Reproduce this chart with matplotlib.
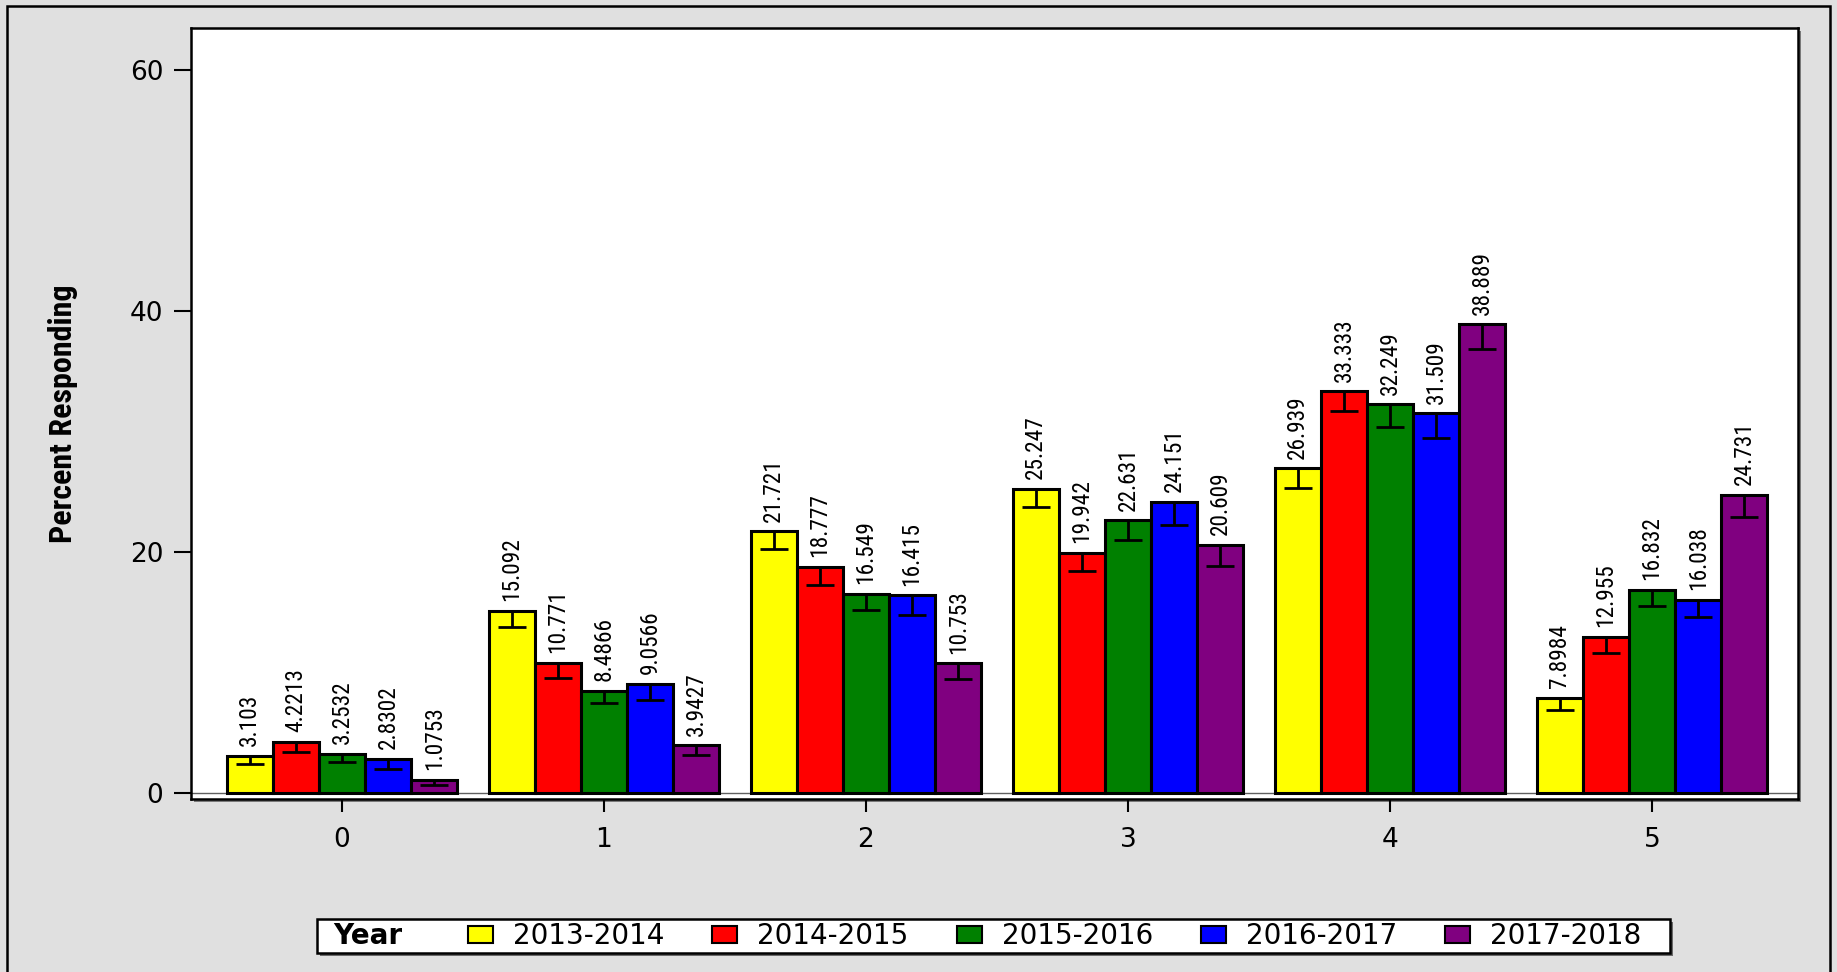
import matplotlib
matplotlib.use('Agg')
import matplotlib.pyplot as plt
from matplotlib.patches import Rectangle
from matplotlib import font_manager as fm
import numpy as np

# ---------------- data ----------------
categories = ['0', '1', '2', '3', '4', '5']
years = ['2013-2014', '2014-2015', '2015-2016', '2016-2017', '2017-2018']
colors = ['#FFFF00', '#FF0000', '#008000', '#0000FF', '#800080']

pct_2013_2014 = [3.103, 15.092, 21.721, 25.247, 26.939, 7.8984]
pct_2014_2015 = [4.2213, 10.771, 18.777, 19.942, 33.333, 12.955]
pct_2015_2016 = [3.2532, 8.4866, 16.549, 22.631, 32.249, 16.832]
pct_2016_2017 = [2.8302, 9.0566, 16.415, 24.151, 31.509, 16.038]
pct_2017_2018 = [1.0753, 3.9427, 10.753, 20.609, 38.889, 24.731]

err_2013_2014 = [0.66, 1.33, 1.47, 1.52, 1.66, 0.97]
err_2014_2015 = [0.83, 1.19, 1.52, 1.52, 1.66, 1.36]
err_2015_2016 = [0.66, 1.02, 1.35, 1.66, 1.90, 1.33]
err_2016_2017 = [0.80, 1.33, 1.66, 1.88, 2.07, 1.40]
err_2017_2018 = [0.40, 0.80, 1.33, 1.80, 2.00, 1.80]

yticks = [0, 20, 40, 60]
y_label = 'Percent Responding'
legend_title = 'Year'

series = [pct_2013_2014, pct_2014_2015, pct_2015_2016, pct_2016_2017, pct_2017_2018]
errors = [err_2013_2014, err_2014_2015, err_2015_2016, err_2016_2017, err_2017_2018]

# ---------------- fonts ----------------
plt.rcParams['font.family'] = ['DejaVu Sans']
weights = {}
for f in fm.fontManager.ttflist:
    if f.style == 'normal':
        weights.setdefault(f.name, set()).add(f.weight)

cands = ['Liberation Sans Narrow', 'Arial Narrow', 'Roboto Condensed',
         'Archivo Narrow', 'PT Sans Narrow', 'Encode Sans Condensed']


def pick(need_bold):
    for c in cands:
        w = weights.get(c, set())
        if not w:
            continue
        if need_bold and not any(int(x) >= 700 for x in w if str(x).isdigit() or isinstance(x, int)):
            if 'bold' not in w:
                continue
        return [c, 'DejaVu Sans'], 'normal'
    return ['DejaVu Sans'], 'condensed'


narrow, stretch = pick(False)
narrow_b, stretch_b = pick(True)

# ---------------- figure ----------------
W, H = 1837, 972
fig = plt.figure(figsize=(W / 100, H / 100), dpi=100)
fig.patch.set_facecolor('#E0E0E0')
renderer = fig.canvas.get_renderer()


def fx(px):
    return px / W


def fy(py):
    return 1 - py / H


def fit_size(s, target_px, fam, st, weight='normal'):
    t = fig.text(0, 0, s, fontsize=10, family=fam, fontweight=weight, fontstretch=st)
    w = t.get_window_extent(renderer=renderer).width
    t.remove()
    return 10 * target_px / w


val_size = fit_size('21.721', 63, narrow, stretch)
ylab_size = fit_size(y_label, 258, narrow_b, stretch_b, 'bold')

# outer border
fig.patches.append(Rectangle((fx(7), fy(990)), fx(1830) - fx(7), fy(6) - fy(990),
                             transform=fig.transFigure, fill=False,
                             edgecolor='black', linewidth=1.8, zorder=-2))

ax_l, ax_r, ax_t, ax_b = 191, 1798, 28, 799
# shadow of plot frame
fig.patches.append(Rectangle((fx(ax_l + 3), fy(ax_b + 3)), fx(ax_r) - fx(ax_l), fy(ax_t) - fy(ax_b),
                             transform=fig.transFigure, facecolor='#7a7a7a',
                             edgecolor='none', zorder=-1))

ax = fig.add_axes([fx(ax_l), fy(ax_b), fx(ax_r) - fx(ax_l), fy(ax_t) - fy(ax_b)])
ax.set_facecolor('white')

x = np.arange(len(categories))
bw = 0.176
handles = []
for j, (vals, errs, col, yr) in enumerate(zip(series, errors, colors, years)):
    xs = x + (j - 2) * bw
    b = ax.bar(xs, vals, bw, color=col, edgecolor='black', linewidth=2.2,
               zorder=2, label=yr)
    handles.append(b)
    ax.errorbar(xs, vals, yerr=[errs, np.zeros(len(errs))], fmt='none',
                ecolor='black', elinewidth=2.0, capsize=10, capthick=2.0, zorder=3)
    for xi, v in zip(xs, vals):
        ax.annotate(f'{v:.5g}', (xi, v), xytext=(0, 7), textcoords='offset points',
                    rotation=90, ha='center', va='bottom', fontsize=val_size,
                    family=narrow, fontstretch=stretch, color='black', zorder=4)

ax.axhline(0, color='#606060', lw=1.0, zorder=1)
ax.set_xlim(-0.576, 5.557)
ax.set_ylim(-0.5, 63.5)
ax.set_xticks(x, categories)
ax.set_yticks(yticks)
ax.tick_params(axis='x', length=9.5, width=1.5, pad=11, labelsize=19, direction='out')
ax.tick_params(axis='y', length=12, width=1.5, pad=8, labelsize=19, direction='out')
for s in ax.spines.values():
    s.set_linewidth(1.8)
    s.set_color('black')

fig.text(fx(63), fy(414), y_label, rotation=90, ha='center', va='center',
         fontweight='bold', family=narrow_b, fontstretch=stretch_b, fontsize=ylab_size)

# ---------------- legend ----------------
lg_l, lg_r, lg_t, lg_b = 317, 1670, 919, 953
fig.patches.append(Rectangle((fx(lg_l + 3), fy(lg_b + 3)), fx(lg_r) - fx(lg_l), fy(lg_t) - fy(lg_b),
                             transform=fig.transFigure, facecolor='#6a6a6a',
                             edgecolor='none', zorder=-1))
fig.patches.append(Rectangle((fx(lg_l), fy(lg_b)), fx(lg_r) - fx(lg_l), fy(lg_t) - fy(lg_b),
                             transform=fig.transFigure, facecolor='white',
                             edgecolor='black', linewidth=1.8, zorder=-0.5))
fig.text(fx(333), fy(936), legend_title, ha='left', va='center',
         fontweight='bold', fontsize=20)
leg_fs = 20
fpx = leg_fs * 100 / 72
leg = fig.legend(handles=handles, labels=years, ncol=5, frameon=False,
                 loc='center left', bbox_to_anchor=(fx(468), fy(936)),
                 borderpad=0, borderaxespad=0, fontsize=leg_fs,
                 handlelength=25 / fpx, handleheight=16 / fpx,
                 handletextpad=20 / fpx, columnspacing=48 / fpx)
for p in leg.get_patches():
    p.set_linewidth(1.5)

fig.savefig('out.png', dpi=100, facecolor=fig.get_facecolor())
